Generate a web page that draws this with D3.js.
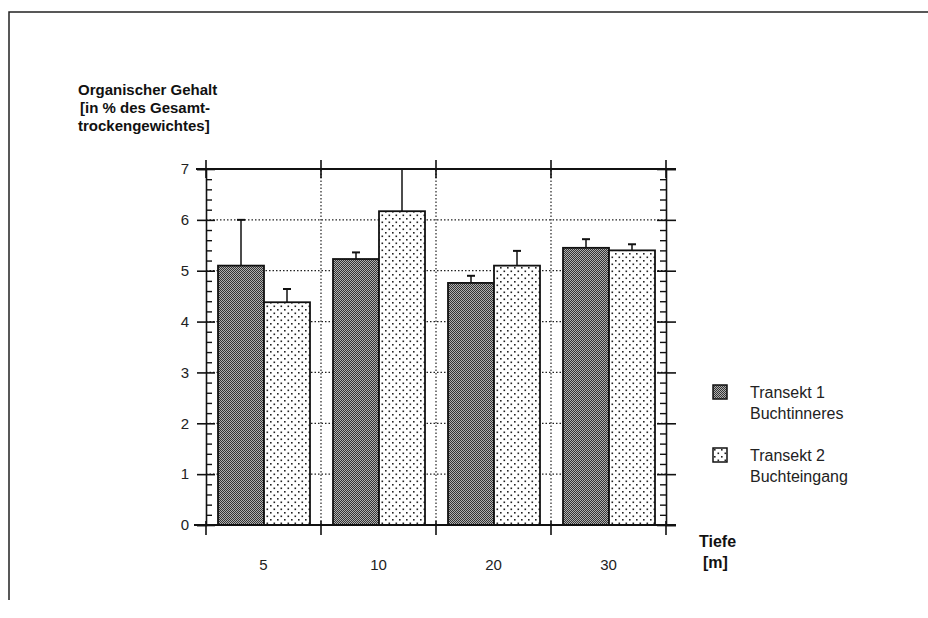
<!DOCTYPE html>
<html>
<head>
<meta charset="utf-8">
<script src="https://cdn.jsdelivr.net/npm/d3@7"></script>
<style>
  body { margin: 0; background: #fff; }
  svg { display: block; }
</style>
</head>
<body>
<svg id="svg" width="928" height="618"></svg>
<script>
// data
const depths = ["5", "10", "20", "30"];
const transekt1 = [5.1, 5.23, 4.76, 5.45];
const transekt1Err = [0.9, 0.13, 0.14, 0.17];
const transekt2 = [4.38, 6.17, 5.1, 5.4];
const transekt2Err = [0.26, 0.83, 0.29, 0.12];
const yTicks = [0, 1, 2, 3, 4, 5, 6, 7];
const seriesKeys = ["t1", "t2"];
const legendLabels = [["Transekt 1", "Buchtinneres"], ["Transekt 2", "Buchteingang"]];

const svg = d3.select("#svg");
const plotLeft = 206, plotRight = 666, plotTop = 169, plotBottom = 525;
const narrow = '"Liberation Sans Narrow", "Liberation Sans", Arial, sans-serif';
const sans = '"Liberation Sans", Arial, sans-serif';

// fill patterns
const defs = svg.append("defs");
const dark = defs.append("pattern").attr("id", "dark").attr("patternUnits", "userSpaceOnUse")
  .attr("width", 2).attr("height", 2);
dark.append("rect").attr("width", 2).attr("height", 2).attr("fill", "#b0b0b0");
dark.append("rect").attr("width", 1).attr("height", 1).attr("fill", "#333");
dark.append("rect").attr("x", 1).attr("y", 1).attr("width", 1).attr("height", 1).attr("fill", "#333");

const light = defs.append("pattern").attr("id", "light").attr("patternUnits", "userSpaceOnUse")
  .attr("width", 7).attr("height", 7);
light.append("rect").attr("width", 7).attr("height", 7).attr("fill", "#fff");
light.append("rect").attr("x", 1).attr("y", 1).attr("width", 1.6).attr("height", 1.6).attr("fill", "#222");
light.append("rect").attr("x", 4.5).attr("y", 4.5).attr("width", 1.6).attr("height", 1.6).attr("fill", "#222");

// page frame
svg.append("path").attr("d", "M9,600 V12 H928").attr("fill", "none").attr("stroke", "#222").attr("stroke-width", 1.5);

const x = d3.scaleBand().domain(depths).range([plotLeft, plotRight]).padding(0);
const sub = d3.scaleBand().domain(seriesKeys).range([12, x.bandwidth() - 11]).padding(0);
const y = d3.scaleLinear().domain([0, 7]).range([plotBottom, plotTop]);

// dotted grid
svg.append("g").selectAll("line").data(yTicks.filter(d => d > 0 && d < 7)).join("line")
  .attr("x1", plotLeft).attr("x2", plotRight).attr("y1", d => y(d)).attr("y2", d => y(d))
  .attr("stroke", "#222").attr("stroke-width", 1.2).attr("stroke-dasharray", "1.5,2");
svg.append("g").selectAll("line").data(depths.slice(1)).join("line")
  .attr("x1", d => x(d)).attr("x2", d => x(d)).attr("y1", plotBottom).attr("y2", plotTop)
  .attr("stroke", "#222").attr("stroke-width", 1.2).attr("stroke-dasharray", "1.5,2");

// bars
const rows = depths.map((d, i) => ({
  depth: d,
  values: [
    { key: "t1", v: transekt1[i], e: transekt1Err[i], fill: "url(#dark)" },
    { key: "t2", v: transekt2[i], e: transekt2Err[i], fill: "url(#light)" }
  ]
}));

const groups = svg.append("g").selectAll("g").data(rows).join("g")
  .attr("transform", d => `translate(${x(d.depth)},0)`);

// error bars (up only)
groups.selectAll("g.err").data(d => d.values).join("g").attr("class", "err")
  .each(function(d) {
    const g = d3.select(this);
    const cx = sub(d.key) + sub.bandwidth() / 2;
    g.append("line").attr("x1", cx).attr("x2", cx).attr("y1", y(d.v)).attr("y2", y(d.v + d.e))
      .attr("stroke", "#111").attr("stroke-width", 1.5);
    g.append("line").attr("x1", cx - 4).attr("x2", cx + 4).attr("y1", y(d.v + d.e)).attr("y2", y(d.v + d.e))
      .attr("stroke", "#111").attr("stroke-width", 2);
  });

groups.selectAll("rect").data(d => d.values).join("rect")
  .attr("x", d => sub(d.key))
  .attr("y", d => y(d.v))
  .attr("width", sub.bandwidth())
  .attr("height", d => y(0) - y(d.v))
  .attr("fill", d => d.fill)
  .attr("stroke", "#111").attr("stroke-width", 1.8);

// left axis
const yAxisL = svg.append("g").attr("transform", `translate(${plotLeft},0)`)
  .call(d3.axisLeft(y).tickValues(yTicks).tickSize(9).tickPadding(8).tickFormat(d3.format("d")));
yAxisL.select(".domain").attr("stroke", "#111").attr("stroke-width", 1.6);
yAxisL.selectAll(".tick line").attr("stroke", "#111").attr("stroke-width", 1.6).attr("x2", -9).attr("x1", 9);
yAxisL.selectAll(".tick text").attr("font-size", 15).attr("fill", "#222").attr("font-family", narrow);

// minor ticks inside, left and right
const minor = d3.range(0, 7, 0.2).filter(v => Math.abs(v - Math.round(v)) > 0.01);
svg.append("g").attr("transform", `translate(${plotLeft},0)`)
  .call(d3.axisRight(y).tickValues(minor).tickSize(6).tickFormat(""))
  .call(g => g.select(".domain").remove())
  .selectAll("line").attr("stroke", "#111").attr("stroke-width", 1.4);

const yAxisR = svg.append("g").attr("transform", `translate(${plotRight},0)`)
  .call(d3.axisRight(y).tickValues(yTicks).tickSize(10).tickFormat(""));
yAxisR.select(".domain").attr("stroke", "#111").attr("stroke-width", 1.6);
yAxisR.selectAll(".tick line").attr("stroke", "#111").attr("stroke-width", 1.6).attr("x1", -9);
svg.append("g").attr("transform", `translate(${plotRight},0)`)
  .call(d3.axisLeft(y).tickValues(minor).tickSize(6).tickFormat(""))
  .call(g => g.select(".domain").remove())
  .selectAll("line").attr("stroke", "#111").attr("stroke-width", 1.4);

// bottom axis: ticks at group boundaries, labels at centers
const edges = depths.map(d => x(d)).concat([plotRight]);
svg.append("line").attr("x1", plotLeft - 12).attr("x2", plotRight + 10).attr("y1", plotBottom).attr("y2", plotBottom)
  .attr("stroke", "#111").attr("stroke-width", 2.2);
svg.append("line").attr("x1", plotLeft - 10).attr("x2", plotRight + 10).attr("y1", plotTop).attr("y2", plotTop)
  .attr("stroke", "#111").attr("stroke-width", 1.8);
svg.append("g").selectAll("line").data(edges).join("line")
  .attr("x1", d => d).attr("x2", d => d).attr("y1", plotBottom - 4).attr("y2", plotBottom + 10)
  .attr("stroke", "#111").attr("stroke-width", 1.6);
svg.append("g").selectAll("line").data(edges).join("line")
  .attr("x1", d => d).attr("x2", d => d).attr("y1", plotTop - 9).attr("y2", plotTop + 9)
  .attr("stroke", "#111").attr("stroke-width", 1.6);

const xAxis = svg.append("g").attr("transform", `translate(0,${plotBottom})`)
  .call(d3.axisBottom(x).tickSize(0).tickPadding(34));
xAxis.select(".domain").remove();
xAxis.selectAll(".tick text").attr("font-size", 15).attr("fill", "#222").attr("font-family", narrow);

// y title
const title = svg.append("text").attr("font-family", sans).attr("font-weight", "bold")
  .attr("font-size", 15).attr("fill", "#111");
[["Organischer  Gehalt", 78, 95], ["[in % des Gesamt-", 80, 113], ["trockengewichtes]", 78, 131]]
  .forEach(([t, tx, ty]) => title.append("tspan").attr("x", tx).attr("y", ty).text(t));

// x title
const xt = svg.append("text").attr("font-family", sans).attr("font-weight", "bold")
  .attr("font-size", 16).attr("fill", "#111");
xt.append("tspan").attr("x", 699).attr("y", 547).text("Tiefe");
xt.append("tspan").attr("x", 703).attr("y", 568).text("[m]");

// legend
const legend = svg.append("g").selectAll("g").data(legendLabels).join("g")
  .attr("transform", (d, i) => `translate(713,${385 + i * 63})`);
legend.append("rect").attr("width", 14).attr("height", 14)
  .attr("fill", (d, i) => i === 0 ? "url(#dark)" : "url(#light)")
  .attr("stroke", "#111").attr("stroke-width", 1.5);
legend.append("text").attr("font-family", sans).attr("font-size", 16).attr("fill", "#222")
  .selectAll("tspan").data(d => d).join("tspan")
  .attr("x", 37).attr("y", (d, i) => 13 + i * 21).text(d => d);
</script>
</body>
</html>
